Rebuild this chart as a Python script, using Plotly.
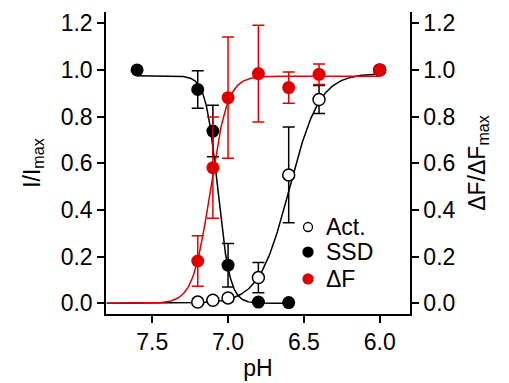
import numpy as np
import plotly.graph_objects as go

# ---- data ----
ph_act = [7.2, 7.1, 7.0, 6.8, 6.6, 6.4, 6.0]
act = [0.005, 0.013, 0.023, 0.11, 0.55, 0.873, 1.0]
act_err = [0, 0, 0, 0.065, 0.205, 0.06, 0]

ph_ssd = [7.6, 7.2, 7.1, 7.0, 6.8, 6.6]
ssd = [1.0, 0.916, 0.738, 0.163, 0.005, 0.003]
ssd_err = [0, 0.08, 0.11, 0.093, 0, 0]

ph_df = [7.2, 7.1, 7.0, 6.8, 6.6, 6.4, 6.0]
dF = [0.181, 0.581, 0.881, 0.984, 0.924, 0.981, 1.0]
dF_err = [0.108, 0.217, 0.26, 0.207, 0.067, 0.044, 0]

# Boltzmann fit parameters (amplitude, pH50, slope) estimated from the curves
fit_act = (0.985, 6.595, 0.10)
fit_ssd = (0.975, 7.068, 0.04)
fit_df = (0.973, 7.117, 0.057)

x_ticks = [7.5, 7.0, 6.5, 6.0]
y_ticks = [0.0, 0.2, 0.4, 0.6, 0.8, 1.0, 1.2]

legend_labels = ["Act.", "SSD", "ΔF"]

RED = "rgb(225,0,0)"
FONT = "Arial, Liberation Sans, sans-serif"
FS = 23


def boltz_up(ph, p):  # rises as pH falls
    a, v, k = p
    return a / (1 + np.exp((ph - v) / k))


def boltz_down(ph, p):  # falls as pH falls
    a, v, k = p
    return a / (1 + np.exp((v - ph) / k))


x_act = np.linspace(7.8, 6.0, 300)
x_ssd = np.linspace(7.6, 6.6, 300)
x_df = np.linspace(7.8, 6.0, 300)

fig = go.Figure()
fig.add_trace(go.Scatter(x=x_act, y=boltz_up(x_act, fit_act), mode="lines",
                         line=dict(color="black", width=1.5), showlegend=False, hoverinfo="skip"))
fig.add_trace(go.Scatter(x=x_ssd, y=boltz_down(x_ssd, fit_ssd), mode="lines",
                         line=dict(color="black", width=1.5), showlegend=False, hoverinfo="skip"))
fig.add_trace(go.Scatter(x=x_df, y=boltz_up(x_df, fit_df), mode="lines", yaxis="y2",
                         line=dict(color=RED, width=1.5), showlegend=False, hoverinfo="skip"))

fig.add_trace(go.Scatter(x=ph_act, y=act, mode="markers", showlegend=False,
                         marker=dict(symbol="circle", size=12, color="white",
                                     line=dict(color="black", width=1.5)),
                         error_y=dict(type="data", array=act_err, color="black", thickness=1.5, width=6)))
fig.add_trace(go.Scatter(x=ph_ssd, y=ssd, mode="markers", showlegend=False,
                         marker=dict(symbol="circle", size=13, color="black"),
                         error_y=dict(type="data", array=ssd_err, color="black", thickness=1.5, width=6)))
fig.add_trace(go.Scatter(x=ph_df, y=dF, mode="markers", showlegend=False, yaxis="y2",
                         marker=dict(symbol="circle", size=13, color=RED),
                         error_y=dict(type="data", array=dF_err, color=RED, thickness=1.5, width=6)))

# legend (key circles + labels), placed in the plot's paper space
leg_x = 0.6645
leg_rows = [0.288, 0.205, 0.116]
leg_fill = ["white", "black", RED]
leg_line = ["black", "black", RED]
leg_size = [9, 10, 10]
shapes = []
annotations = []
for lab, yy, fc, lc, s in zip(legend_labels, leg_rows, leg_fill, leg_line, leg_size):
    shapes.append(dict(type="circle", xref="paper", yref="paper",
                       xsizemode="pixel", ysizemode="pixel", xanchor=leg_x, yanchor=yy,
                       x0=-s / 2, x1=s / 2, y0=-s / 2, y1=s / 2,
                       fillcolor=fc, line=dict(color=lc, width=1.3)))
    annotations.append(dict(text=lab, xref="paper", yref="paper", x=leg_x + 0.052, y=yy,
                            xanchor="left", yanchor="middle", showarrow=False,
                            font=dict(size=FS, color="black", family=FONT)))

axis_common = dict(showline=True, linecolor="black", linewidth=1.5, ticks="outside",
                   ticklen=7, tickwidth=1.5, tickcolor="black", showgrid=False,
                   zeroline=False, automargin=False,
                   tickfont=dict(size=FS, color="black", family=FONT))
yr = [-0.046, 1.248]

# the page body adds an 8px offset, so the figure is 8px smaller than the window
fig.update_layout(
    width=501, height=375,
    margin=dict(l=98, r=99, t=4, b=69),
    paper_bgcolor="white", plot_bgcolor="white",
    font=dict(family=FONT, size=FS, color="black"),
    showlegend=False,
    shapes=shapes,
    annotations=annotations,
    xaxis=dict(range=[7.805, 5.80], tickvals=x_ticks, ticktext=[f"{v:.1f}" for v in x_ticks],
               title=dict(text="pH", font=dict(size=FS), standoff=4), **axis_common),
    yaxis=dict(range=yr, tickvals=y_ticks, ticktext=[f"{v:.1f}" for v in y_ticks],
               title=dict(text="I/I<sub>max</sub>", font=dict(size=FS), standoff=14), **axis_common),
    yaxis2=dict(range=yr, tickvals=y_ticks, ticktext=[f"{v:.1f}" for v in y_ticks],
                overlaying="y", side="right",
                title=dict(text="ΔF/ΔF<sub>max</sub>", font=dict(size=FS), standoff=14), **axis_common),
)

fig.write_html("out.html")
